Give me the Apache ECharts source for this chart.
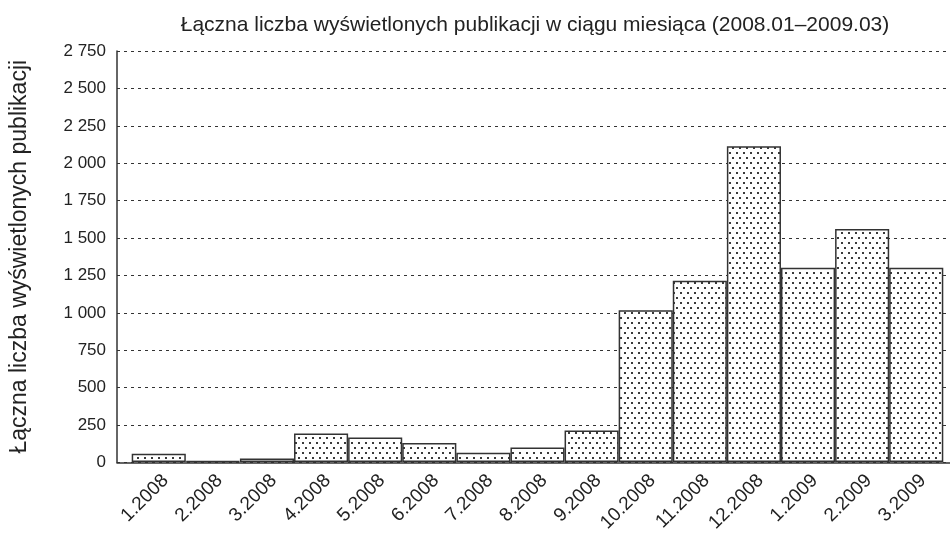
<!DOCTYPE html>
<html>
<head>
<meta charset="utf-8">
<script src="https://cdn.jsdelivr.net/npm/echarts@6/dist/echarts.min.js"></script>
<style>html,body{margin:0;padding:0;background:#fff}#c{width:950px;height:535px}</style>
</head>
<body>
<div id="c"></div>
<script>
var categories = ['1.2008','2.2008','3.2008','4.2008','5.2008','6.2008','7.2008','8.2008','9.2008','10.2008','11.2008','12.2008','1.2009','2.2009','3.2009'];
var views = [55, 5, 23, 190, 163, 127, 61, 97, 210, 1015, 1212, 2112, 1299, 1559, 1299];
var titleText = 'Łączna liczba wyświetlonych publikacji w ciągu miesiąca (2008.01–2009.03)';
var yName = 'Łączna liczba wyświetlonych publikacji';
var yMin = 0, yMax = 2750, yStep = 250;

function dotPattern() {
  var c = document.createElement('canvas');
  c.width = 7; c.height = 10;
  var g = c.getContext('2d');
  g.fillStyle = '#ffffff';
  g.fillRect(0, 0, 7, 10);
  g.fillStyle = '#3a3a3a';
  g.fillRect(1, 2, 2, 2);
  g.fillRect(4, 7, 2, 2);
  return c;
}

function fmt(v) { return String(v).replace(/\B(?=(\d{3})+(?!\d))/g, ' '); }

var font = 'Liberation Sans, Arial, sans-serif';
var chart = echarts.init(document.getElementById('c'), null, {renderer: 'canvas'});
chart.setOption({
  animation: false,
  backgroundColor: '#fff',
  title: {
    text: titleText, left: 530, top: 10, textAlign: 'center',
    textStyle: {fontFamily: font, fontSize: 21, fontWeight: 'normal', color: '#222'}
  },
  grid: [
    {left: 116, right: 0, top: 51, bottom: 72.5},
    {left: 131.7, right: 6.7, top: 51, bottom: 72.5}
  ],
  xAxis: [
    {gridIndex: 0, type: 'value', min: 0, max: 1, axisLine: {show: true, onZero: false, lineStyle: {color: '#333', width: 1.5}},
     axisTick: {show: false}, axisLabel: {show: false}, splitLine: {show: false}},
    {gridIndex: 1, type: 'category', data: categories, axisLine: {show: false}, axisTick: {show: false},
     axisLabel: {interval: 0, rotate: 45, margin: 9, verticalAlign: 'top', fontFamily: font, fontSize: 19, color: '#222'}}
  ],
  yAxis: [
    {gridIndex: 0, type: 'value', min: yMin, max: yMax, interval: yStep,
     name: yName, nameLocation: 'middle', nameGap: 86,
     nameTextStyle: {fontFamily: font, fontSize: 23, color: '#222'},
     axisLine: {show: true, lineStyle: {color: '#333', width: 1.5}},
     axisTick: {show: false},
     axisLabel: {margin: 11, fontFamily: font, fontSize: 17, color: '#222', formatter: fmt},
     splitLine: {show: true, lineStyle: {color: '#333', width: 1, type: [3, 4]}}},
    {gridIndex: 1, type: 'value', min: yMin, max: yMax, interval: yStep, show: false, splitLine: {show: false}}
  ],
  series: [{
    type: 'bar', xAxisIndex: 1, yAxisIndex: 1, data: views, barCategoryGap: '0%',
    itemStyle: {color: {image: dotPattern(), repeat: 'repeat'}, borderColor: '#333', borderWidth: 1.5}
  }]
});
</script>
</body>
</html>
